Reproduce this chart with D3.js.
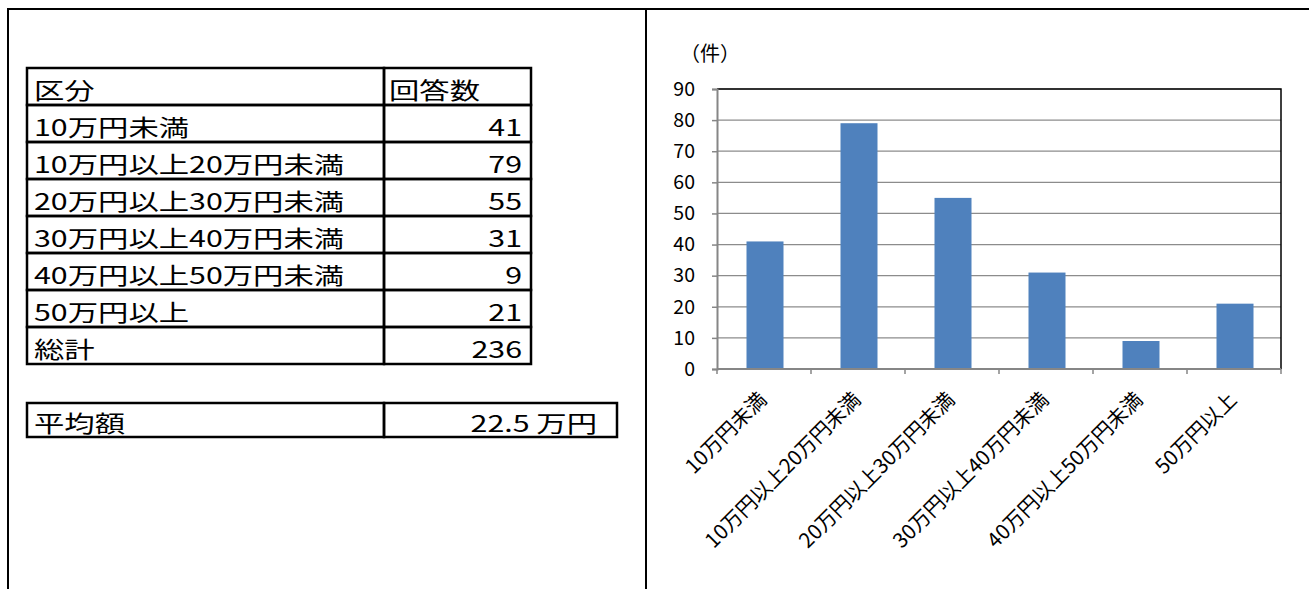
<!DOCTYPE html>
<html>
<head>
<meta charset="utf-8">
<script src="https://cdn.jsdelivr.net/npm/d3@7"></script>
<style>
  html, body { margin: 0; padding: 0; background: #fff; }
  svg { display: block; }
</style>
</head>
<body>
<script>
// Survey result: amount brackets and number of responses
const categories = ["10万円未満", "10万円以上20万円未満", "20万円以上30万円未満", "30万円以上40万円未満", "40万円以上50万円未満", "50万円以上"];
const counts = [41, 79, 55, 31, 9, 21];
const totalLabel = "総計";
const total = 236;
const headers = ["区分", "回答数"];
const averageLabel = "平均額";
const averageValue = "22.5 万円";
const yTicks = [0, 10, 20, 30, 40, 50, 60, 70, 80, 90];
const unitLabel = "（件）";

const W = 1309, H = 589;
const svg = d3.select("body").append("svg").attr("width", W).attr("height", H);
const jp = "'Noto Sans CJK JP', 'Noto Sans', sans-serif";

// outer frame
svg.append("path")
  .attr("d", `M8,${H + 5} V9 H${W + 5} M646,9 V${H + 5}`)
  .attr("fill", "none").attr("stroke", "#000").attr("stroke-width", 2);

// ---------- table ----------
const tbl = { x0: 27, x1: 384, x2: 531, top: 68, rowH: 37 };
const cellFont = 23, stretch = 1.32;
const rows = [headers].concat(categories.map((c, i) => [c, counts[i]])).concat([[totalLabel, total]]);
const rowY = d3.scaleLinear().domain([0, rows.length]).range([tbl.top, tbl.top + tbl.rowH * rows.length]);

const tg = svg.append("g");

// cell text in a wide gothic style: horizontally stretched
function cellText(x, y, txt, anchor) {
  tg.append("text")
    .attr("transform", `translate(${x},${y}) scale(${stretch},1)`)
    .attr("text-anchor", anchor || "start")
    .attr("font-family", jp).attr("font-size", cellFont).attr("fill", "#000")
    .text(txt);
}
function cell(xa, xb, y0, y1) {
  tg.append("rect").attr("x", xa).attr("y", y0).attr("width", xb - xa).attr("height", y1 - y0)
    .attr("fill", "none").attr("stroke", "#000").attr("stroke-width", 2.5);
}

rows.forEach((r, i) => {
  const y0 = rowY(i), y1 = rowY(i + 1);
  cell(tbl.x0, tbl.x1, y0, y1);
  cell(tbl.x1, tbl.x2, y0, y1);
  cellText(tbl.x0 + 7, y1 - 6, r[0]);
  if (i === 0) cellText(tbl.x1 + 5, y1 - 6, r[1]);
  else cellText(tbl.x2 - 9, y1 - 6, r[1], "end");
});

// average box
const avg = { top: 403, h: 34, x2: 617 };
cell(tbl.x0, tbl.x1, avg.top, avg.top + avg.h);
cell(tbl.x1, avg.x2, avg.top, avg.top + avg.h);
cellText(tbl.x0 + 7, avg.top + avg.h - 5, averageLabel);
cellText(avg.x2 - 20, avg.top + avg.h - 5, averageValue, "end");

// ---------- bar chart ----------
const plot = { left: 717, right: 1281, top: 89, bottom: 369 };
const xb = d3.scaleBand().domain(categories).range([plot.left, plot.right]);
const y = d3.scaleLinear().domain([0, 90]).range([plot.bottom, plot.top]);
const barW = 37;

const cg = svg.append("g");

// gridlines
cg.append("g").selectAll("line").data(yTicks.filter(d => d > 0)).join("line")
  .attr("x1", plot.left).attr("x2", plot.right)
  .attr("y1", d => y(d)).attr("y2", d => y(d))
  .attr("stroke", "#8c8c8c").attr("stroke-width", 1.2);

// plot border top/right
cg.append("path")
  .attr("d", `M${plot.left},${plot.top} H${plot.right} V${plot.bottom}`)
  .attr("fill", "none").attr("stroke", "#000").attr("stroke-width", 1.5);

// bars
cg.append("g").selectAll("rect").data(counts).join("rect")
  .attr("x", (d, i) => xb(categories[i]) + xb.bandwidth() / 2 - barW / 2 + 1)
  .attr("width", barW)
  .attr("y", d => y(d))
  .attr("height", d => y(0) - y(d))
  .attr("fill", "#4F81BD");

// y axis
const yAxis = d3.axisLeft(y).tickValues(yTicks).tickSize(5).tickPadding(17);
const ya = cg.append("g").attr("transform", `translate(${plot.left},0)`).call(yAxis);
ya.attr("font-size", null).attr("font-family", null);
ya.select(".domain").attr("stroke", "#868686").attr("stroke-width", 2);
ya.selectAll(".tick line").attr("stroke", "#868686").attr("stroke-width", 1.5);
ya.selectAll(".tick text")
  .style("font-family", jp).style("font-size", "19.5px").attr("fill", "#000");

// x axis: ticks at category boundaries
const boundaries = categories.map(c => xb(c)).concat([plot.right]);
cg.append("line").attr("x1", plot.left).attr("x2", plot.right).attr("y1", plot.bottom).attr("y2", plot.bottom)
  .attr("stroke", "#868686").attr("stroke-width", 2);
cg.append("g").selectAll("line").data(boundaries).join("line")
  .attr("x1", d => d).attr("x2", d => d).attr("y1", plot.bottom).attr("y2", plot.bottom + 5)
  .attr("stroke", "#868686").attr("stroke-width", 1.5);

// rotated category labels
cg.append("g").selectAll("text").data(categories).join("text")
  .attr("transform", d => `translate(${xb(d) + xb.bandwidth() / 2 + 4},${plot.bottom + 32}) rotate(-45)`)
  .attr("text-anchor", "end")
  .style("font-family", jp).style("font-size", "20.5px").attr("fill", "#000")
  .text(d => d);

// unit label
cg.append("text").attr("x", 680).attr("y", 61)
  .style("font-family", jp).style("font-size", "20px").attr("fill", "#000").text(unitLabel);
</script>
</body>
</html>
